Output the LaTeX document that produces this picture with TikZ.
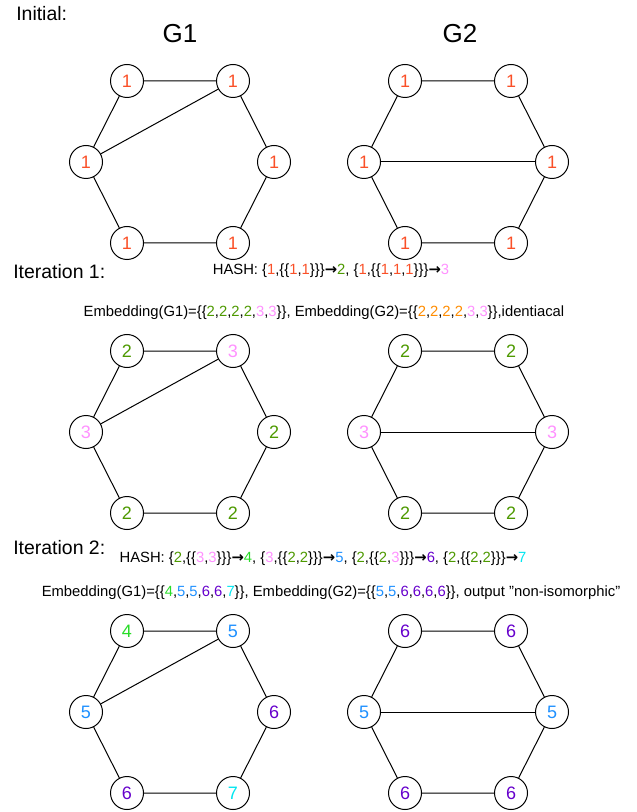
\documentclass[tikz,border=0pt]{standalone}
\usepackage{fontspec}
\setmainfont{Liberation Sans}
\newfontfamily\arrowfont{DejaVu Sans}
\usetikzlibrary{positioning}
\definecolor{one}{RGB}{250,80,40}
\definecolor{two}{RGB}{77,153,0}
\definecolor{three}{RGB}{255,145,255}
\definecolor{orng}{RGB}{255,140,0}
\definecolor{four}{RGB}{40,220,40}
\definecolor{five}{RGB}{30,144,255}
\definecolor{six}{RGB}{102,0,204}
\definecolor{seven}{RGB}{0,230,240}
\newcommand{\cl}[2]{\textcolor{#1}{#2}}
\newcommand{\maps}{{\arrowfont\bfseries →}}
% one hexagon graph: name, top-left position, six labels (tl,tr,r,br,bl,l), chord end
\newcommand{\hexgraph}[9]{%
  \begin{scope}[shift={#2}]
    \node[vert] (#1tl) at (0,0) {#3};
    \node[vert] (#1tr) at (106,0) {#4};
    \node[vert] (#1r) at (147,81) {#5};
    \node[vert] (#1br) at (106,162) {#6};
    \node[vert] (#1bl) at (0,162) {#7};
    \node[vert] (#1l) at (-41,81) {#8};
  \end{scope}
  \draw[edge] (#1tl) -- (#1tr) -- (#1r) -- (#1br) -- (#1bl) -- (#1l) -- (#1tl);
  \draw[edge] (#1l) -- (#1#9);
}
\begin{document}
\begin{tikzpicture}[x=0.75pt,y=-0.75pt,
    vert/.style={circle,draw,line width=0.75pt,minimum size=24.75pt,inner sep=0pt,
      font=\fontsize{13.5}{14}\selectfont},
    edge/.style={line width=0.75pt},
    head/.style={anchor=base west,inner sep=0pt,font=\fontsize{14.6}{16}\selectfont},
    title/.style={font=\fontsize{19.5}{22}\selectfont},
    info/.style={font=\fontsize{11.1}{13}\selectfont}]
  \useasboundingbox (0,0) rectangle (636,812);
  \node[head] (init) at (16,21) {Initial:};
  \node[title] (g1) at (180,34) {G1};
  \node[title] (g2) at (460,34) {G2};

  % initial labels
  \hexgraph{a}{(127,81)}{\cl{one}{1}}{\cl{one}{1}}{\cl{one}{1}}{\cl{one}{1}}{\cl{one}{1}}{\cl{one}{1}}{tr}
  \hexgraph{b}{(405,81)}{\cl{one}{1}}{\cl{one}{1}}{\cl{one}{1}}{\cl{one}{1}}{\cl{one}{1}}{\cl{one}{1}}{r}

  % iteration 1
  \node[head] (it1) at (13,279) {Iteration 1:};
  \node[info] (hash1) at (331,271) {HASH: \{\cl{one}{1},\{\{\cl{one}{1},\cl{one}{1}\}\}\}\maps\cl{two}{2}, \{\cl{one}{1},\{\{\cl{one}{1},\cl{one}{1},\cl{one}{1}\}\}\}\maps\cl{three}{3}};
  \node[info] (emb1) at (324,313) {Embedding(G1)=\{\{\cl{two}{2},\cl{two}{2},\cl{two}{2},\cl{two}{2},\cl{three}{3},\cl{three}{3}\}\}, Embedding(G2)=\{\{\cl{orng}{2},\cl{orng}{2},\cl{orng}{2},\cl{orng}{2},\cl{three}{3},\cl{three}{3}\}\},identiacal};
  \hexgraph{c}{(127,351)}{\cl{two}{2}}{\cl{three}{3}}{\cl{two}{2}}{\cl{two}{2}}{\cl{two}{2}}{\cl{three}{3}}{tr}
  \hexgraph{d}{(405,351)}{\cl{two}{2}}{\cl{two}{2}}{\cl{three}{3}}{\cl{two}{2}}{\cl{two}{2}}{\cl{three}{3}}{r}

  % iteration 2
  \node[head] (it2) at (13,554) {Iteration 2:};
  \node[info] (hash2) at (323,559) {HASH: \{\cl{two}{2},\{\{\cl{three}{3},\cl{three}{3}\}\}\}\maps\cl{four}{4}, \{\cl{three}{3},\{\{\cl{two}{2},\cl{two}{2}\}\}\}\maps\cl{five}{5}, \{\cl{two}{2},\{\{\cl{two}{2},\cl{three}{3}\}\}\}\maps\cl{six}{6}, \{\cl{two}{2},\{\{\cl{two}{2},\cl{two}{2}\}\}\}\maps\cl{seven}{7}};
  \node[info] (emb2) at (331,593) {Embedding(G1)=\{\{\cl{four}{4},\cl{five}{5},\cl{five}{5},\cl{six}{6},\cl{six}{6},\cl{seven}{7}\}\}, Embedding(G2)=\{\{\cl{five}{5},\cl{five}{5},\cl{six}{6},\cl{six}{6},\cl{six}{6},\cl{six}{6}\}\}, output \symbol{34}non-isomorphic\symbol{34}};
  \hexgraph{e}{(127,631)}{\cl{four}{4}}{\cl{five}{5}}{\cl{six}{6}}{\cl{seven}{7}}{\cl{six}{6}}{\cl{five}{5}}{tr}
  \hexgraph{f}{(405,631)}{\cl{six}{6}}{\cl{six}{6}}{\cl{five}{5}}{\cl{six}{6}}{\cl{six}{6}}{\cl{five}{5}}{r}
\end{tikzpicture}
\end{document}
